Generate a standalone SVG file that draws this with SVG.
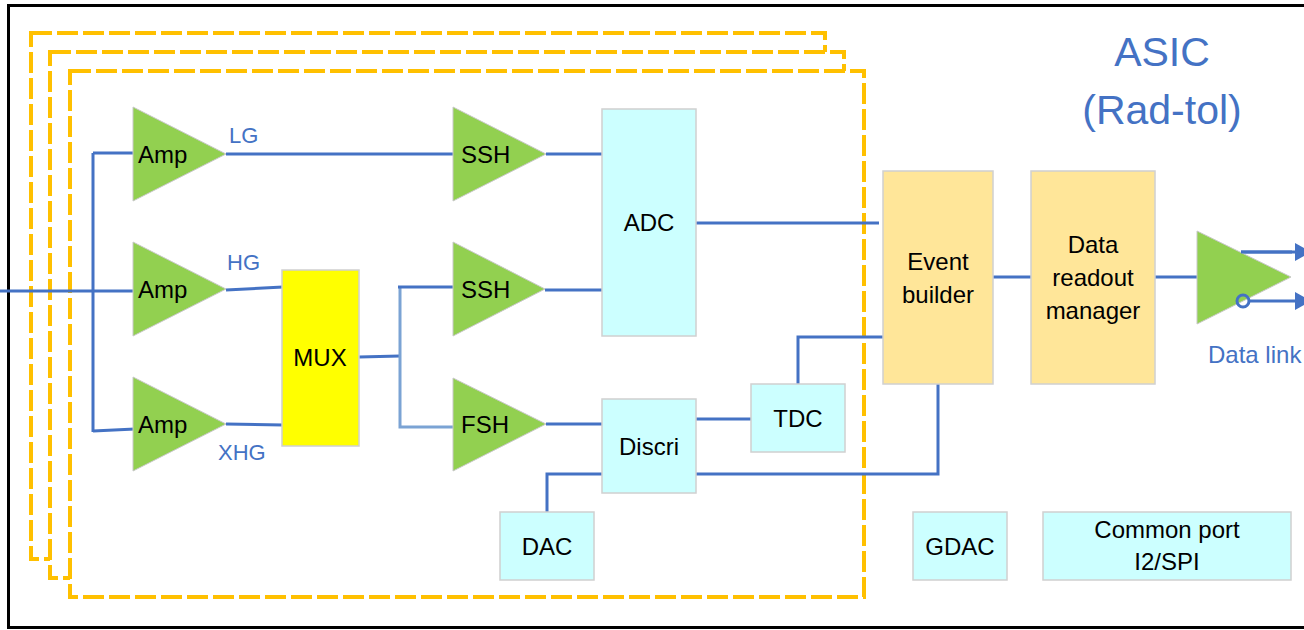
<svg xmlns="http://www.w3.org/2000/svg" width="1304" height="630" viewBox="0 0 1304 630">
<defs>
<style>
.frame{fill:none;stroke:#000;stroke-width:3}
.dash{fill:#fff;stroke:#FFC000;stroke-width:4;stroke-dasharray:21 5}
.tri{fill:#92D050;stroke:#C8C8C8;stroke-width:1}
.cyan{fill:#CCFFFF;stroke:#D0D0D0;stroke-width:1.5}
.orange{fill:#FFE699;stroke:#D0D0D0;stroke-width:1.5}
.mux{fill:#FFFF00;stroke:#D0D0D0;stroke-width:1.5}
.w{fill:none;stroke:#4472C4;stroke-width:3}
.wl{fill:none;stroke:#7BA3D4;stroke-width:3}
text{font-family:"Liberation Sans",Arial,sans-serif;font-size:24px;fill:#000}
.c{text-anchor:middle}
.lbl{fill:#4472C4;font-size:22px}
.big{fill:#4472C4;font-size:41px;text-anchor:middle}
</style>
<marker id="arr" markerUnits="userSpaceOnUse" markerWidth="20" markerHeight="20" refX="0" refY="9" orient="auto">
<path d="M0,0 L16,9 L0,18 Z" fill="#4472C4"/>
</marker>
</defs>

<rect class="frame" x="8.5" y="5.5" width="1310" height="622"/>

<g id="channels">
<rect class="dash" x="31" y="33" width="794" height="526"/>
<rect class="dash" x="50" y="52" width="794" height="526"/>
<rect class="dash" x="70" y="71" width="794" height="526"/>
</g>

<g id="title">
<text class="big" x="1162" y="66">ASIC</text>
<text class="big" x="1162" y="124">(Rad-tol)</text>
</g>

<g id="connectors">
<path class="w" d="M0,291 H135"/>
<path class="w" d="M93,153 V432"/>
<path class="w" d="M93,153 H135"/>
<path class="w" d="M93,431 L135,429"/>
<path class="w" d="M226,154 H453"/>
<path class="w" d="M226,290 L283,287"/>
<path class="w" d="M226,424 L283,425"/>
<path class="w" d="M359,357 L400,356"/>
<path class="wl" d="M400,287 V427 H453"/>
<path class="w" d="M398,287 H453"/>
<path class="w" d="M546,154 H603"/>
<path class="w" d="M545,290 H603"/>
<path class="w" d="M546,424 H603"/>
<path class="w" d="M696,223 H879"/>
<path class="w" d="M696,419 H752"/>
<path class="w" d="M798,384 V337 H884"/>
<path class="w" d="M696,474 H938 V384"/>
<path class="w" d="M547,512 V474 H603"/>
<path class="w" d="M993,277 H1032"/>
<path class="w" d="M1155,277 H1197"/>
<path class="w" d="M1241,252 H1295" marker-end="url(#arr)"/>
<path class="w" d="M1249,301 H1295" marker-end="url(#arr)"/>
</g>

<g id="amp1"><path class="tri" d="M133,107 L226,154 L133,201 Z"/><text x="138" y="163">Amp</text></g>
<g id="amp2"><path class="tri" d="M133,242 L226,289 L133,336 Z"/><text x="138" y="298">Amp</text></g>
<g id="amp3"><path class="tri" d="M133,377 L226,424 L133,471 Z"/><text x="138" y="433">Amp</text></g>

<g id="labels">
<text class="lbl" x="229" y="143">LG</text>
<text class="lbl" x="227" y="270">HG</text>
<text class="lbl" x="218" y="460">XHG</text>
</g>

<g id="mux"><rect class="mux" x="282" y="270" width="77" height="176"/><text class="c" x="320" y="366">MUX</text></g>

<g id="ssh1"><path class="tri" d="M453,107 L546,154 L453,201 Z"/><text x="461" y="163">SSH</text></g>
<g id="ssh2"><path class="tri" d="M453,242 L545,289 L453,336 Z"/><text x="461" y="298">SSH</text></g>
<g id="fsh"><path class="tri" d="M453,378 L546,424 L453,471 Z"/><text x="461" y="433">FSH</text></g>

<g id="adc"><rect class="cyan" x="602" y="109" width="94" height="227"/><text class="c" x="649" y="231">ADC</text></g>
<g id="discri"><rect class="cyan" x="602" y="399" width="94" height="94"/><text class="c" x="649" y="455">Discri</text></g>
<g id="tdc"><rect class="cyan" x="751" y="384" width="94" height="68"/><text class="c" x="798" y="427">TDC</text></g>
<g id="dac"><rect class="cyan" x="500" y="512" width="94" height="68"/><text class="c" x="547" y="555">DAC</text></g>

<g id="event-builder"><rect class="orange" x="883" y="171" width="110" height="213"/><text class="c" x="938" y="270">Event</text><text class="c" x="938" y="303">builder</text></g>
<g id="data-readout"><rect class="orange" x="1031" y="171" width="124" height="213"/><text class="c" x="1093" y="253">Data</text><text class="c" x="1093" y="286">readout</text><text class="c" x="1093" y="319">manager</text></g>

<g id="data-link">
<path class="tri" d="M1197,231 L1291,277 L1197,324 Z"/>
<path class="w" d="M1241,252 H1292"/>
<circle cx="1243" cy="301" r="6" fill="none" stroke="#4472C4" stroke-width="3"/>
<text class="lbl" x="1208" y="363" style="font-size:24px">Data link</text>
</g>

<g id="gdac"><rect class="cyan" x="913" y="512" width="94" height="68"/><text class="c" x="960" y="555">GDAC</text></g>
<g id="common-port"><rect class="cyan" x="1043" y="512" width="248" height="68"/><text class="c" x="1167" y="538">Common port</text><text class="c" x="1167" y="570">I2/SPI</text></g>
</svg>
